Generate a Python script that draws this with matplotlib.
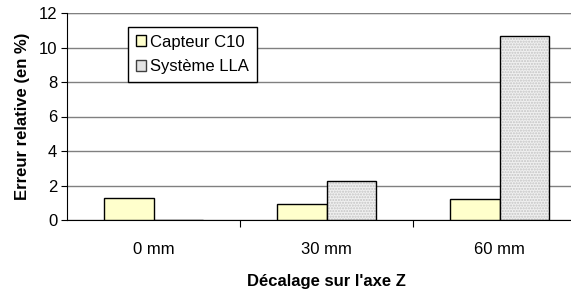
import matplotlib.pyplot as plt
from matplotlib.patches import Patch
import numpy as np

plt.rcParams['font.family'] = ['Liberation Sans', 'DejaVu Sans']
plt.rcParams['font.size'] = 12

categories = ['0 mm', '30 mm', '60 mm']
capteur_c10 = [1.3, 0.95, 1.22]
systeme_lla = [0.0, 2.25, 10.65]

fig = plt.figure(figsize=(5.71, 2.91), dpi=100)
ax = fig.add_axes([67 / 571, 71 / 291, 519 / 571, 207 / 291])

x = np.arange(len(categories))
w = 0.285
ax.bar(x - w / 2, capteur_c10, w, color='#ffffcc', edgecolor='black', linewidth=1, zorder=3)
ax.bar(x + w / 2, systeme_lla, w, color='#f0f0f0', edgecolor='#c4c4c4', hatch='......',
       linewidth=0, zorder=3)
ax.bar(x + w / 2, systeme_lla, w, fill=False, edgecolor='black', linewidth=1, zorder=4)

ax.set_xlim(-0.5, 2.5)
ax.set_ylim(0, 12)
ax.set_yticks(range(0, 13, 2))
ax.set_xticks([0.5, 1.5])
ax.set_xticklabels([])
ax.set_xticks(x, minor=True)
ax.tick_params(axis='x', which='minor', length=0, pad=16)
ax.set_xticklabels(categories, minor=True)
ax.tick_params(axis='x', which='major', length=5, direction='out')
ax.tick_params(axis='y', length=4, direction='out', pad=3)
ax.grid(axis='y', color='#808080', linewidth=1, zorder=0)
for s in ['top', 'right']:
    ax.spines[s].set_visible(False)
ax.axhline(12, color='#c0c0c0', linewidth=1, zorder=1)

ax.set_xlabel("Décalage sur l'axe Z", fontweight='bold', labelpad=12)
ax.set_ylabel('Erreur relative (en %)', fontweight='bold', labelpad=6)

handles = [Patch(facecolor='#ffffcc', edgecolor='black'),
           Patch(facecolor='#e4e4e4', edgecolor='#404040')]
leg = ax.legend(handles, ['Capteur C10', 'Système LLA'], loc='upper left',
                bbox_to_anchor=(61 / 519, 193 / 207), frameon=True, fancybox=False,
                edgecolor='black', framealpha=1, handlelength=0.6, handleheight=0.6,
                handletextpad=0.3, borderpad=0.45, labelspacing=0.6, borderaxespad=0)
leg.get_frame().set_linewidth(1)

fig.savefig('out.png', dpi=100)
